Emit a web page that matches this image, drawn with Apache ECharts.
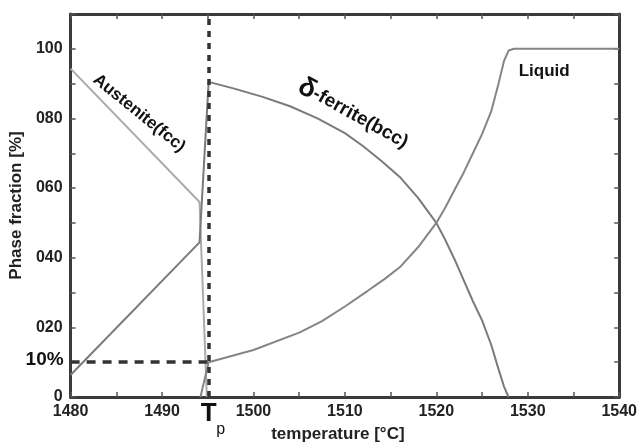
<!DOCTYPE html>
<html>
<head>
<meta charset="utf-8">
<script src="https://cdn.jsdelivr.net/npm/echarts@6/dist/echarts.min.js"></script>
<style>
    html, body { margin: 0; background: #fff; }
    #main { width: 640px; height: 448px; }
</style>
</head>
<body>
<div id="main"></div>
<script>
// phase fractions, [temperature, percent]
const austenite = [[1480, 94.3], [1494.1, 56], [1494.9, 0]];
const ferrite = [
    [1480, 6.3], [1494.1, 44.4], [1495.1, 90.5], [1498, 88.5], [1501, 86.2],
    [1504, 83.5], [1507, 80], [1510, 75.8], [1512, 72], [1514, 67.8],
    [1516, 63.2], [1518, 57.2], [1520, 50], [1521, 45], [1522, 39.5],
    [1523, 33.5], [1524, 27.5], [1525, 22], [1526, 15], [1526.8, 8],
    [1527.4, 3], [1527.9, 0]
];
const liquid = [
    [1494.2, 0], [1495.1, 10], [1500, 13.5], [1505, 18.5], [1507.5, 21.8],
    [1510, 26], [1512.5, 30.5], [1514.4, 34], [1516.1, 37.5], [1518, 43],
    [1520, 50], [1521, 54.5], [1522, 59.5], [1523, 64.5], [1524, 70],
    [1525, 75.5], [1526, 82], [1526.8, 90], [1527.4, 96.5], [1527.9, 99.5],
    [1528.5, 100], [1540, 100]
];
const tp = 1495.1;      // peritectic temperature
const tenPct = 10;      // liquid fraction at Tp
const xTicks = [1480, 1490, 1500, 1510, 1520, 1530, 1540];
const yTicks = ['0', '020', '040', '060', '080', '100'];

const font = 'Liberation Sans, Arial, sans-serif';

var chartDom = document.getElementById('main');
var myChart = echarts.init(chartDom);

var axisLine = { onZero: false, lineStyle: { color: '#3a3a3a', width: 3 } };
var tick = { inside: true, length: 5, lineStyle: { color: '#555', width: 1.5 } };

var option = {
    animation: false,
    backgroundColor: '#fff',
    grid: { left: 68, right: 13, top: 14, bottom: 50 },
    xAxis: [
        {
            type: 'value', min: 1480, max: 1540, interval: 5,
            axisLine: axisLine, axisTick: tick, splitLine: { show: false },
            axisLabel: {
                margin: 7, color: '#222', fontSize: 16, fontWeight: 'bold', fontFamily: font,
                formatter: function (v) { return xTicks.indexOf(v) >= 0 ? String(v) : ''; }
            },
            name: 'temperature [°C]', nameLocation: 'middle', nameGap: 29,
            nameTextStyle: { color: '#222', fontSize: 17, fontWeight: 'bold', fontFamily: font, padding: [0, 0, 0, -14] }
        },
        {
            type: 'value', position: 'top', min: 1480, max: 1540, interval: 5,
            axisLine: axisLine, axisTick: tick, axisLabel: { show: false }, splitLine: { show: false }
        }
    ],
    yAxis: [
        {
            type: 'value', min: 0, max: 110, interval: 10,
            axisLine: axisLine, axisTick: tick, splitLine: { show: false },
            axisLabel: {
                margin: 8, color: '#222', fontSize: 16, fontWeight: 'bold', fontFamily: font,
                formatter: function (v) { return v % 20 === 0 && v <= 100 ? yTicks[v / 20] : ''; }
            },
            name: 'Phase fraction [%]', nameLocation: 'middle', nameGap: 31,
            nameTextStyle: { color: '#222', fontSize: 17, fontWeight: 'bold', fontFamily: font }
        },
        {
            type: 'value', position: 'right', min: 0, max: 110, interval: 10,
            axisLine: axisLine, axisTick: tick, axisLabel: { show: false }, splitLine: { show: false }
        }
    ],
    series: [
        {
            name: 'Austenite(fcc)', type: 'line', data: austenite, symbol: 'none',
            lineStyle: { color: '#ababab', width: 2 }
        },
        {
            name: 'δ-ferrite(bcc)', type: 'line', data: ferrite, symbol: 'none',
            lineStyle: { color: '#7a7a7a', width: 2 }
        },
        {
            name: 'Liquid', type: 'line', data: liquid, symbol: 'none',
            lineStyle: { color: '#858585', width: 2 },
            markLine: {
                silent: true, symbol: 'none', label: { show: false },
                data: [
                    [{ coord: [1480, tenPct], lineStyle: { color: '#333', width: 3.5, type: [9, 7] } },
                     { coord: [tp, tenPct] }],
                    [{ coord: [tp, 0], lineStyle: { color: '#333', width: 3.5, type: [6, 6] } },
                     { coord: [tp, 110] }]
                ]
            }
        }
    ]
};
myChart.setOption(option);

// annotations anchored to data coordinates
function px(p) { return myChart.convertToPixel({ gridIndex: 0 }, p); }
var deg = Math.PI / 180;
var pA = px([1487.5, 81.5]);
var pF = px([1510.9, 81.2]);
var pL = px([1531.8, 93.4]);
var pT = px([tp, 0]);
var p10 = px([1480, tenPct]);

myChart.setOption({
    graphic: [
        {
            type: 'text', x: pA[0], y: pA[1], rotation: -39 * deg,
            style: { text: 'Austenite(fcc)', fill: '#111', font: 'bold 17px ' + font, align: 'center', verticalAlign: 'middle' }
        },
        {
            type: 'text', x: pF[0], y: pF[1], rotation: -29 * deg,
            style: {
                text: '{d|δ}-ferrite(bcc)', fill: '#111', font: 'bold 19px ' + font, align: 'center', verticalAlign: 'middle',
                rich: { d: { font: 'bold 27px ' + font, fill: '#111' } }
            }
        },
        {
            type: 'text', x: pL[0], y: pL[1],
            style: { text: 'Liquid', fill: '#111', font: 'bold 17px ' + font, align: 'center', verticalAlign: 'middle' }
        },
        {
            type: 'text', x: pT[0], y: pT[1] + 17,
            style: { text: 'T', fill: '#111', font: 'bold 26px ' + font, align: 'center', verticalAlign: 'middle' }
        },
        {
            type: 'text', x: pT[0] + 12, y: pT[1] + 33,
            style: { text: 'p', fill: '#111', font: '16px ' + font, align: 'center', verticalAlign: 'middle' }
        },
        {
            type: 'text', x: p10[0] - 7, y: p10[1] - 2,
            style: { text: '10%', fill: '#111', font: 'bold 19px ' + font, align: 'right', verticalAlign: 'middle' }
        }
    ]
});
</script>
</body>
</html>
